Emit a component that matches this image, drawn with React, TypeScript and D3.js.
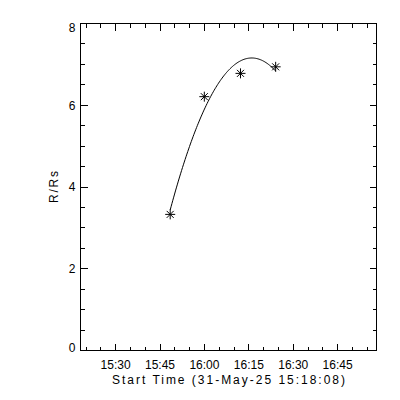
import React from "react";
import * as d3 from "d3";

// start of the time axis, and offsets (s) of each measurement from it
const startTime = new Date(2025, 4, 31, 15, 18, 8);
const axisSpanSec = 6000;
const offsetsSec = [1818, 2510, 3243, 3956];
const distanceRs = [3.33, 6.21, 6.78, 6.94];
const yTicks = [0, 2, 4, 6, 8];
const yLabel = "R/Rs";
const xTitle = "Start Time (31-May-25 15:18:08)";

const W = 400;
const H = 400;
const left = 80.5;
const right = 376.5;
const top = 23.5;
const bottom = 350.5;
const font = "'Liberation Sans', Arial, sans-serif";

// least squares quadratic fit of R against t
function quadFit(ts: number[], ys: number[]) {
  const n = ts.length;
  const s = [0, 0, 0, 0, 0];
  const r = [0, 0, 0];
  for (let i = 0; i < n; i++) {
    for (let k = 0; k < 5; k++) s[k] += Math.pow(ts[i], k);
    for (let k = 0; k < 3; k++) r[k] += ys[i] * Math.pow(ts[i], k);
  }
  const A = [
    [s[0], s[1], s[2], r[0]],
    [s[1], s[2], s[3], r[1]],
    [s[2], s[3], s[4], r[2]],
  ];
  for (let i = 0; i < 3; i++) {
    for (let j = i + 1; j < 3; j++) {
      const f = A[j][i] / A[i][i];
      for (let k = i; k < 4; k++) A[j][k] -= f * A[i][k];
    }
  }
  const c = [0, 0, 0];
  for (let i = 2; i >= 0; i--) {
    let v = A[i][3];
    for (let k = i + 1; k < 3; k++) v -= A[i][k] * c[k];
    c[i] = v / A[i][i];
  }
  return (t: number) => c[0] + c[1] * t + c[2] * t * t;
}

export default function App() {
  const endTime = new Date(startTime.getTime() + axisSpanSec * 1000);
  const x = d3.scaleTime().domain([startTime, endTime]).range([left, right]);
  const y = d3.scaleLinear().domain([0, 8]).range([bottom, top]);

  const majorX = x.ticks(d3.timeMinute.every(15)!);
  const minorX = x.ticks(d3.timeMinute.every(5)!);
  const minorY = d3.range(0, 8.01, 0.5);
  const fmt = d3.timeFormat("%H:%M");

  const dates = offsetsSec.map((s) => new Date(startTime.getTime() + s * 1000));
  const tMin = offsetsSec.map((s) => s / 60);
  const fit = quadFit(tMin, distanceRs);
  const t0 = d3.min(tMin)!;
  const t1 = d3.max(tMin)!;
  const fitPts = d3.range(t0, t1 + 1e-9, (t1 - t0) / 120).map((t) => [t, fit(t)]);
  const line = d3
    .line<number[]>()
    .x((d) => x(new Date(startTime.getTime() + d[0] * 60000)))
    .y((d) => y(d[1]));

  const snap = (v: number) => Math.round(v - 0.5) + 0.5;

  return (
    <svg
      width={W}
      height={H}
      style={{ position: "absolute", left: 0, top: 0, background: "#fff" }}
    >
      <rect width={W} height={H} fill="#fff" />
      <g stroke="#000" strokeWidth={1} shapeRendering="crispEdges" fill="none">
        <rect x={left} y={top} width={right - left} height={bottom - top} />
        {minorX.map((d, i) => {
          const px = snap(x(d));
          const major = majorX.some((m) => +m === +d);
          const len = major ? 7 : 4;
          return (
            <g key={"x" + i}>
              <line x1={px} x2={px} y1={bottom} y2={bottom - len} />
              <line x1={px} x2={px} y1={top} y2={top + len} />
            </g>
          );
        })}
        {minorY.map((v, i) => {
          const py = snap(y(v));
          const major = yTicks.includes(v);
          const len = major ? 7 : 4;
          return (
            <g key={"y" + i}>
              <line x1={left} x2={left + len} y1={py} y2={py} />
              <line x1={right} x2={right - len} y1={py} y2={py} />
            </g>
          );
        })}
      </g>
      <g fontFamily={font} fontSize={12} fill="#000">
        {majorX.map((d, i) => (
          <text key={"xl" + i} x={x(d)} y={368.5} textAnchor="middle">
            {fmt(d)}
          </text>
        ))}
        {yTicks.map((v, i) => {
          const py = Math.min(Math.max(y(v), top + 4.5), bottom - 2.5);
          return (
            <text key={"yl" + i} x={75.5} y={py} dy="0.36em" textAnchor="end">
              {v}
            </text>
          );
        })}
        <text
          x={(left + right) / 2}
          y={383.5}
          textAnchor="middle"
          textLength={233}
          lengthAdjust="spacing"
        >
          {xTitle}
        </text>
        <text
          transform={`translate(58,${(top + bottom) / 2}) rotate(-90)`}
          textAnchor="middle"
          textLength={32}
          lengthAdjust="spacing"
        >
          {yLabel}
        </text>
      </g>
      <path d={line(fitPts) ?? ""} fill="none" stroke="#000" strokeWidth={1} />
      <g stroke="#000" strokeWidth={1} fill="none">
        {dates.map((d, i) => (
          <path
            key={"p" + i}
            transform={`translate(${x(d)},${y(distanceRs[i])})`}
            d="M-5,0H5M0,-5V5M-3.5,-3.5L3.5,3.5M-3.5,3.5L3.5,-3.5"
          />
        ))}
      </g>
    </svg>
  );
}
